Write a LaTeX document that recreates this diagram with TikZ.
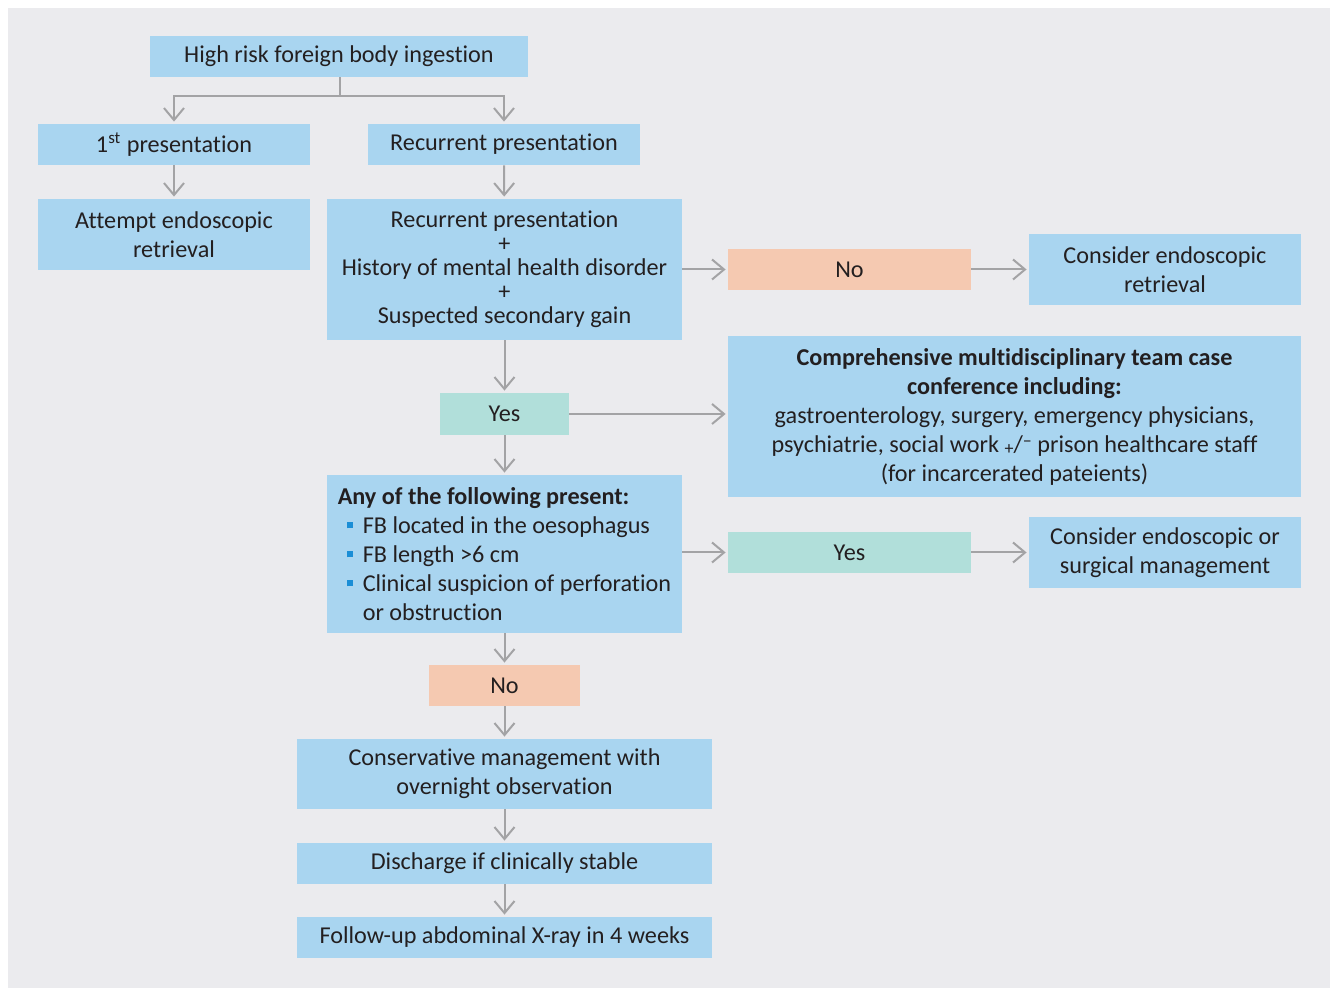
\documentclass[tikz,border=0pt]{standalone}
\usepackage{fontspec}
\setmainfont{Carlito}[Ligatures=NoCommon]
\usetikzlibrary{arrows.meta}
\definecolor{bgcol}{HTML}{EBEBEE}
\definecolor{boxblue}{HTML}{A9D5F0}
\definecolor{noorange}{HTML}{F5C9B1}
\definecolor{yesteal}{HTML}{B1DFDA}
\definecolor{arrgray}{HTML}{A3A3A5}
\definecolor{txtcol}{HTML}{231F20}
\definecolor{bulblue}{HTML}{1A8ED6}
\tikzset{
box/.style={
	  fill=boxblue, align=center, inner sep=0pt, text=txtcol,
	    font=\fontsize{12.1}{14.5}\selectfont},
nobox/.style={box, fill=noorange},
yesbox/.style={box, fill=yesteal},
arr/.style={
	  draw=arrgray, line width=1pt, shorten >=1pt,
	    -{Straight Barb[length=6pt,width=10pt,line width=1pt]}}
}
\newcommand{\bul}{\hspace*{4.5pt}\makebox[8pt][l]{\textcolor{bulblue}{\rule[2.5pt]{3pt}{3pt}}}}
\newcommand{\plusline}{\\[-2.5pt]+\\[-2.5pt]}

\begin{document}
\begin{tikzpicture}[x=0.5pt, y=-0.5pt]
	\useasboundingbox (0,0) rectangle (1330,988);
	\fill[bgcol] (8,8) rectangle (1330,988);
	\node[box, minimum width=189pt, minimum height=20.5pt] (top) at (339,56.5) {High risk foreign body ingestion};
	\node[box, minimum width=136pt, minimum height=20.5pt] (first) at (174,144.5) {1\textsuperscript{st} presentation};
	\node[box, minimum width=136pt, minimum height=20.5pt] (recur) at (504,144.5) {Recurrent presentation};
	\node[box, minimum width=136pt, minimum height=35.5pt] (attempt) at (174,234.5) {Attempt endoscopic\\retrieval};
	\node[box, minimum width=177.5pt, minimum height=70.5pt] (cond) at (504.5,269.5)
		{Recurrent presentation\plusline History of mental health disorder\plusline Suspected secondary gain};
	\node[nobox, minimum width=121.5pt, minimum height=20.5pt] (no1) at (849.5,269.5) {No};
	\node[box, minimum width=136pt, minimum height=35.5pt] (endo) at (1165,269.5) {Consider endoscopic\\retrieval};
	\node[yesbox, minimum width=64.5pt, minimum height=21pt] (yes1) at (504.5,414) {Yes};
	\node[box, minimum width=286.5pt, minimum height=80.5pt] (mdt) at (1014.5,416.5)
		{\textbf{Comprehensive multidisciplinary team case}\\\textbf{conference including:}\\
		gastroenterology, surgery, emergency physicians,\\
		psychiatrie, social work \raisebox{-1pt}{\small +}/\raisebox{3pt}{\small --} prison healthcare staff\\
		(for incarcerated pateients)};
	\node[box, align=left, minimum width=177.5pt, minimum height=79pt] (crit) at (504.5,554)
		{\textbf{Any of the following present:}\\
		\bul FB located in the oesophagus\\
		\bul FB length >6 cm\\
		\bul Clinical suspicion of perforation\\
		\hspace*{12.5pt}or obstruction};
	\node[yesbox, minimum width=121.5pt, minimum height=20.5pt] (yes2) at (849.5,552.5) {Yes};
	\node[box, minimum width=136pt, minimum height=35.5pt] (surg) at (1165,552.5) {Consider endoscopic or\\surgical management};
	\node[nobox, minimum width=75.5pt, minimum height=20.5pt] (no2) at (504.5,685.5) {No};
	\node[box, minimum width=207.5pt, minimum height=35pt] (cons) at (504.5,774) {Conservative management with\\overnight observation};
	\node[box, minimum width=207.5pt, minimum height=20.5pt] (disch) at (504.5,863.5) {Discharge if clinically stable};
	\node[box, minimum width=207.5pt, minimum height=20.5pt] (follow) at (504.5,937.5) {Follow-up abdominal X-ray in 4 weeks};
	% connectors
	\coordinate (split) at (340,96);
	\draw[draw=arrgray, line width=1pt] (top.south -| split) -- (split);
	\draw[arr] (split) -| (first.north);
	\draw[arr] (split) -| (recur.north);
	\draw[arr] (first) -- (attempt);
	\draw[arr] (recur) -- (cond);
	\draw[arr] (cond.east |- no1) -- (no1);
	\draw[arr] (no1) -- (endo.west |- no1);
	\draw[arr] (cond) -- (yes1);
	\draw[arr] (yes1) -- (yes1 -| mdt.west);
	\draw[arr] (yes1) -- (crit);
	\draw[arr] (crit.east |- yes2) -- (yes2);
	\draw[arr] (yes2) -- (yes2 -| surg.west);
	\draw[arr] (crit) -- (no2);
	\draw[arr] (no2) -- (cons);
	\draw[arr] (cons) -- (disch);
	\draw[arr] (disch) -- (follow);
\end{tikzpicture}
\end{document}
